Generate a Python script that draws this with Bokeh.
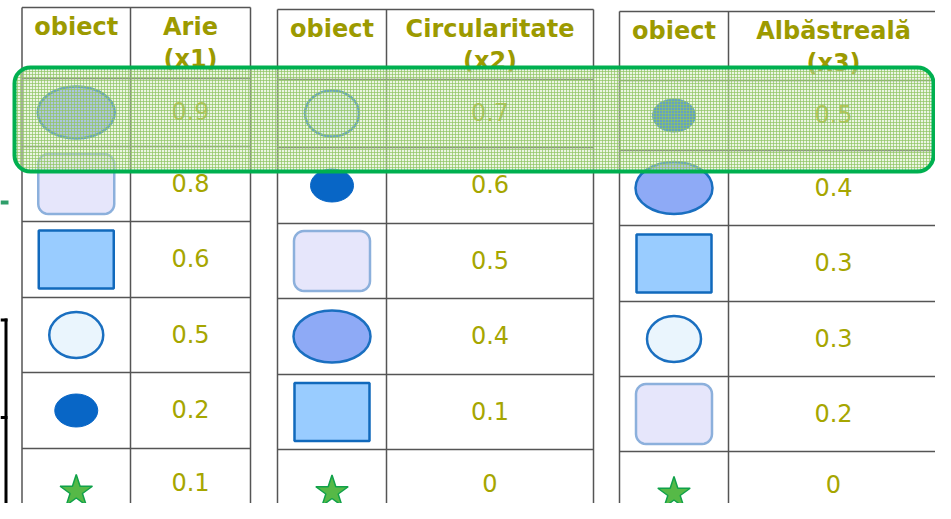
import numpy as np
from bokeh.plotting import figure
from bokeh.models import Range1d, BoxAnnotation
from bokeh.core.properties import value
from bokeh.embed import file_html
from bokeh.resources import INLINE

# ---- data ----
headers = ["Arie", "Circularitate", "Albăstreală"]
header_sub = ["(x1)", "(x2)", "(x3)"]
obj_label = "obiect"
shapes1 = ["ellipse", "rounded", "square", "circle", "dot", "star"]
values1 = [0.9, 0.8, 0.6, 0.5, 0.2, 0.1]
shapes2 = ["circle", "dot", "rounded", "ellipse", "square", "star"]
values2 = [0.7, 0.6, 0.5, 0.4, 0.1, 0]
shapes3 = ["dot", "ellipse", "square", "circle", "rounded", "star"]
values3 = [0.5, 0.4, 0.3, 0.3, 0.2, 0]

# ---- layout (pixel units) ----
col_edges = [(21.5, 130, 250), (277, 386, 593), (619, 728, 938)]
row_lines = [[7, 78, 146, 221, 297, 372, 448, 518],
             [9, 79, 147, 223, 298, 374, 449, 518],
             [11, 80, 150, 225, 301, 376, 451, 519]]

styles = {
    "ellipse": dict(w=77, h=52, fill="#8eaaf6", line="#1a6fc0", lw=2.5),
    "rounded": dict(w=76, h=60, fill="#e6e6fb", line="#8cb0dc", lw=2.5),
    "square": dict(w=75, h=58, fill="#99ccff", line="#1169bc", lw=2.5),
    "circle": dict(w=54, h=46, fill="#eaf5fd", line="#1a6fc0", lw=2.5),
    "dot": dict(w=43, h=33, fill="#0866c6", line="#0866c6", lw=1),
    "star": dict(w=34, h=34, fill="#56b947", line="#10a14a", lw=1.5),
}

HEAD_COLOR = "#9c9a00"
VAL_COLOR = "#a6a600"
GRID_COLOR = "#555555"
FONT = value("DejaVu Sans")
BASE_SHIFT = -10  # svg text baseline correction

p = figure(width=935, height=503, x_range=Range1d(0, 935), y_range=Range1d(503, 0),
           output_backend="svg", toolbar_location=None, min_border=0,
           x_axis_location=None, y_axis_location=None)
p.grid.visible = False
p.outline_line_color = None
p.background_fill_color = "white"
p.border_fill_color = "white"


def rounded_poly(cx, cy, w, h, r, n=8):
    xs, ys = [], []
    cs = [(cx + w / 2 - r, cy + h / 2 - r, 0), (cx - w / 2 + r, cy + h / 2 - r, 90),
          (cx - w / 2 + r, cy - h / 2 + r, 180), (cx + w / 2 - r, cy - h / 2 + r, 270)]
    for (ox, oy, a0) in cs:
        for a in np.linspace(a0, a0 + 90, n):
            t = np.radians(a)
            xs.append(ox + r * np.cos(t))
            ys.append(oy + r * np.sin(t))
    return xs, ys


# decorations at the left edge (parts of neighbouring slide objects)
p.segment(x0=[0], y0=[202], x1=[8], y1=[202], line_color="#2e9e6a", line_width=4)
p.segment(x0=[5.5, 0, 0], y0=[318, 319.5, 417], x1=[5.5, 7, 7], y1=[519, 319.5, 417],
          line_color="black", line_width=3)

all_shapes = [shapes1, shapes2, shapes3]
all_values = [values1, values2, values3]

for ti in range(3):
    cl, cm, cr = col_edges[ti]
    rows = row_lines[ti]
    top, bot = rows[0], rows[-1]
    # grid
    p.segment(x0=[cl, cm, cr], y0=[top] * 3, x1=[cl, cm, cr], y1=[bot] * 3,
              line_color=GRID_COLOR, line_width=1.5)
    p.segment(x0=[cl] * len(rows), y0=rows, x1=[cr] * len(rows), y1=rows,
              line_color=GRID_COLOR, line_width=1.5)
    # headers
    c1 = (cl + cm) / 2
    c2 = (cm + cr) / 2
    p.text(x=[c1, c2], y=[top + 29 + BASE_SHIFT] * 2, text=[obj_label, headers[ti]],
           text_font=FONT, text_font_style="bold", text_font_size="24px",
           text_color=HEAD_COLOR, text_align="center", text_baseline="alphabetic")
    p.text(x=[c2], y=[top + 61 + BASE_SHIFT], text=[header_sub[ti]],
           text_font=FONT, text_font_style="bold", text_font_size="24px",
           text_color=HEAD_COLOR, text_align="center", text_baseline="alphabetic")
    # rows
    centers = [(rows[i + 1] + rows[i + 2]) / 2 for i in range(6)]
    vals = all_values[ti]
    p.text(x=[c2] * 6, y=[c + 8.5 + BASE_SHIFT for c in centers], text=[f"{v:g}" for v in vals],
           text_font=FONT, text_font_size="24px",
           text_color=VAL_COLOR, text_align="center", text_baseline="alphabetic")
    for shp, cy in zip(all_shapes[ti], centers):
        st = styles[shp]
        if shp in ("ellipse", "circle", "dot"):
            p.ellipse(x=[c1], y=[cy], width=[st["w"]], height=[st["h"]],
                      fill_color=st["fill"], line_color=st["line"], line_width=st["lw"])
        elif shp == "square":
            p.rect(x=[c1], y=[cy], width=[st["w"]], height=[st["h"]],
                   fill_color=st["fill"], line_color=st["line"], line_width=st["lw"])
        elif shp == "rounded":
            xs, ys = rounded_poly(c1, cy, st["w"], st["h"], 10)
            p.patch(xs, ys, fill_color=st["fill"], line_color=st["line"], line_width=st["lw"])
        elif shp == "star":
            p.scatter(x=[c1], y=[cy + 8], marker="star", size=st["w"],
                      fill_color=st["fill"], line_color=st["line"], line_width=st["lw"])

# highlight of the first data row
hl = BoxAnnotation(left=col_edges[0][0] - 7.5, right=col_edges[2][2] - 5,
                   top=row_lines[0][1] - 11, bottom=row_lines[0][2] + 25,
                   border_radius=16,
                   fill_color="#d3e8c2", fill_alpha=0.45,
                   hatch_pattern="cross", hatch_scale=3, hatch_weight=1,
                   hatch_color="#8ec563", hatch_alpha=0.7,
                   line_color="#00b050", line_alpha=1.0, line_width=4)
p.add_layout(hl)

open("out.html", "w").write(file_html(p, INLINE))
